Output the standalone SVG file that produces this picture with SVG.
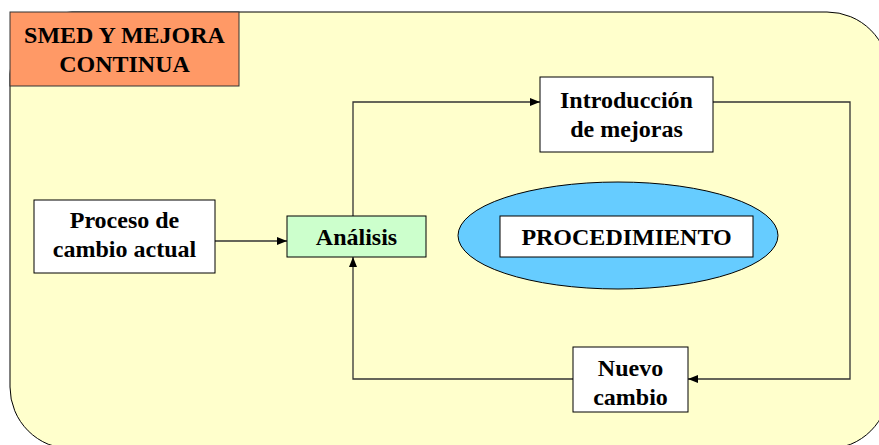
<svg xmlns="http://www.w3.org/2000/svg" width="879" height="445" viewBox="0 0 879 445">
<defs>
<style>
.box{fill:#ffffff;stroke:#000000;stroke-width:1}
.t{font-family:"Liberation Serif","Times New Roman",serif;font-weight:bold;font-size:24px;fill:#000000;text-anchor:middle}
.c{fill:none;stroke:#333333;stroke-width:1.3}
</style>
<marker id="ah" viewBox="0 0 10 10" refX="10" refY="5" markerWidth="10" markerHeight="10" markerUnits="userSpaceOnUse" orient="auto">
<path d="M0,1 L10,5 L0,9 Z" fill="#000000"/>
</marker>
</defs>
<rect x="0" y="0" width="879" height="445" fill="#ffffff"/>
<g id="background">
<rect x="10" y="12" width="879" height="437" rx="62" ry="62" fill="#FFFFCC" stroke="#000000" stroke-width="1"/>
</g>
<g id="title">
<rect x="10" y="12" width="229" height="74" fill="#FF9966" stroke="#333333" stroke-width="1"/>
<text class="t" x="124.5" y="43">SMED Y MEJORA</text>
<text class="t" x="124.5" y="72">CONTINUA</text>
</g>
<g id="connectors">
<path class="c" d="M215,241 L287,241" marker-end="url(#ah)"/>
<path class="c" d="M353,216 L353,102 L540,102" marker-end="url(#ah)"/>
<path class="c" d="M713,102 L850,102 L850,379 L688,379" marker-end="url(#ah)"/>
<path class="c" d="M573,379 L353,379 L353,257" marker-end="url(#ah)"/>
</g>
<g id="proceso">
<rect class="box" x="34" y="200" width="181" height="73"/>
<text class="t" x="124.5" y="228">Proceso de</text>
<text class="t" x="124.5" y="257">cambio actual</text>
</g>
<g id="analisis">
<rect x="287" y="216" width="139" height="41" fill="#CCFFCC" stroke="#000000" stroke-width="1"/>
<text class="t" x="356.5" y="245">Análisis</text>
</g>
<g id="introduccion">
<rect class="box" x="540" y="77" width="173" height="75"/>
<text class="t" x="626.5" y="108">Introducción</text>
<text class="t" x="626.5" y="137">de mejoras</text>
</g>
<g id="procedimiento">
<ellipse cx="618" cy="235.5" rx="160" ry="53.5" fill="#66CCFF" stroke="#000000" stroke-width="1"/>
<rect class="box" x="500" y="216" width="253" height="41"/>
<text class="t" x="626.5" y="245">PROCEDIMIENTO</text>
</g>
<g id="nuevo">
<rect class="box" x="573" y="347" width="115" height="65"/>
<text class="t" x="630.5" y="376">Nuevo</text>
<text class="t" x="630.5" y="405">cambio</text>
</g>
</svg>
